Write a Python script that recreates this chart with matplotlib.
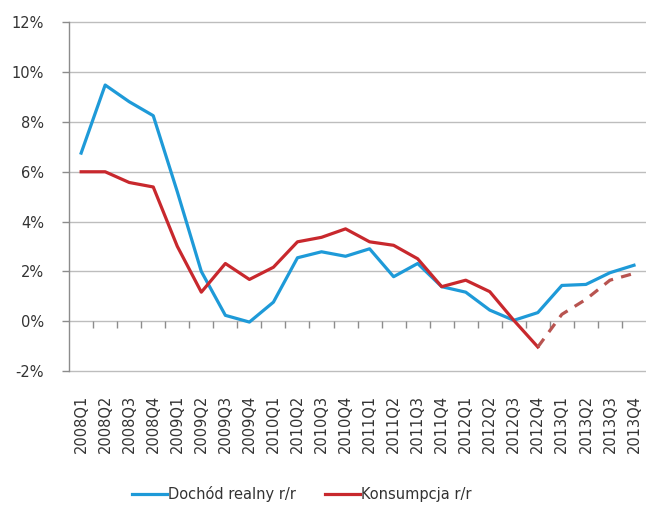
import matplotlib
matplotlib.use("Agg")
import matplotlib.pyplot as plt
from matplotlib.lines import Line2D
import numpy as np

quarters = ["2008Q1", "2008Q2", "2008Q3", "2008Q4",
            "2009Q1", "2009Q2", "2009Q3", "2009Q4",
            "2010Q1", "2010Q2", "2010Q3", "2010Q4",
            "2011Q1", "2011Q2", "2011Q3", "2011Q4",
            "2012Q1", "2012Q2", "2012Q3", "2012Q4",
            "2013Q1", "2013Q2", "2013Q3", "2013Q4"]

# Real disposable income, y/y %
dochod = [6.75, 9.48, 8.81, 8.25, 5.2, 2.0, 0.24, -0.03,
          0.77, 2.55, 2.79, 2.61, 2.91, 1.79, 2.32, 1.39,
          1.17, 0.45, 0.04, 0.35, 1.44, 1.48, 1.95, 2.25]

# Consumption, y/y % (actual through 2012Q4)
konsumpcja = [6.0, 6.0, 5.57, 5.39, 3.01, 1.17, 2.32, 1.68,
              2.17, 3.19, 3.37, 3.71, 3.19, 3.05, 2.51, 1.39,
              1.65, 1.19, 0.04, -1.03]

# Consumption forecast, starting from the last actual quarter
prognoza_start = "2012Q4"
prognoza = [-1.03, 0.28, 0.88, 1.65, 1.92]

y_ticks = [-2, 0, 2, 4, 6, 8, 10, 12]

BLUE = "#1E9AD8"
RED = "#C8282D"
RED_DASH = "#B85450"
GRID = "#BDBDBD"
TEXT = "#333333"

plt.rcParams["font.family"] = ["DejaVu Sans"]

fig = plt.figure(figsize=(6.46, 5.05), dpi=100)
ax = fig.add_axes([0.107, 0.265, 0.893, 0.691])

x = np.arange(len(quarters))
ax.plot(x, dochod, color=BLUE, lw=2.3, zorder=3)
ax.plot(x[:len(konsumpcja)], konsumpcja, color=RED, lw=2.3, zorder=4)
i0 = quarters.index(prognoza_start)
ax.plot(x[i0:i0 + len(prognoza)], prognoza, color=RED_DASH, lw=2.3,
        dashes=(3.2, 2.6), zorder=4)

ax.set_xlim(-0.5, len(quarters) - 0.5)
ax.set_ylim(y_ticks[0], y_ticks[-1])
ax.set_yticks(y_ticks)
ax.set_yticklabels([f"{v}%" for v in y_ticks])

# horizontal gridlines (the 0% line serves as the category axis)
for v in y_ticks:
    ax.axhline(v, color=GRID, lw=1.0, zorder=1, clip_on=False)

# category tick marks hanging below the 0% line
bounds = np.arange(len(quarters) - 1) + 0.5
ax.vlines(bounds, -0.26, 0, color="#8C8C8C", lw=1.0, zorder=2)

ax.set_xticks(x)
ax.set_xticklabels(quarters, rotation=90)

for s in ["top", "right", "bottom"]:
    ax.spines[s].set_visible(False)
ax.spines["left"].set_color("#8C8C8C")
ax.spines["left"].set_linewidth(1.0)

ax.tick_params(axis="x", length=0, pad=17, labelsize=10.5, labelcolor=TEXT)
ax.tick_params(axis="y", length=5, width=1, color="#8C8C8C", pad=13,
               labelsize=10.5, labelcolor=TEXT)

handles = [Line2D([], [], color=BLUE, lw=2.3),
           Line2D([], [], color=RED, lw=2.3)]
fig.legend(handles, ["Dochód realny r/r", "Konsumpcja r/r"],
           loc="center", bbox_to_anchor=(0.467, 0.022), ncol=2,
           frameon=False, fontsize=10.5, handlelength=2.4,
           handletextpad=0.05, columnspacing=2.0, labelcolor=TEXT)

fig.savefig("out.png", dpi=100)
